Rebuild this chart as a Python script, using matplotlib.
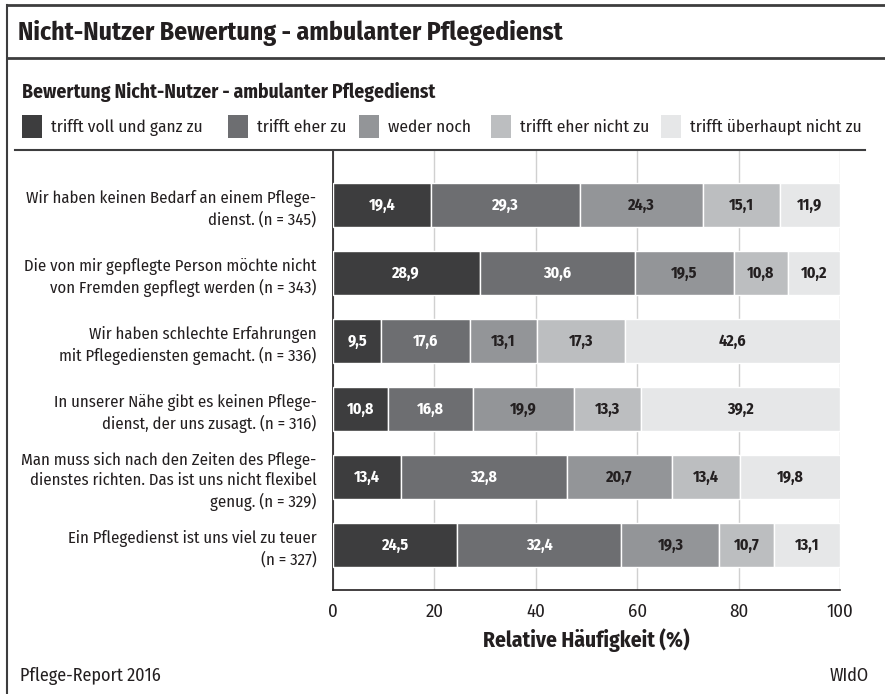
import matplotlib.pyplot as plt
from matplotlib.patches import Rectangle
from matplotlib.lines import Line2D
import numpy as np

# Schmale Schrift wie im Original
plt.rcParams['font.family'] = ['Fira Sans Condensed', 'DejaVu Sans']

# Daten
labels = [
    "Wir haben keinen Bedarf an einem Pflege-\ndienst. (n = 345)",
    "Die von mir gepflegte Person möchte nicht\nvon Fremden gepflegt werden (n = 343)",
    "Wir haben schlechte Erfahrungen\nmit Pflegediensten gemacht. (n = 336)",
    "In unserer Nähe gibt es keinen Pflege-\ndienst, der uns zusagt. (n = 316)",
    "Man muss sich nach den Zeiten des Pflege-\ndienstes richten. Das ist uns nicht flexibel\ngenug. (n = 329)",
    "Ein Pflegedienst ist uns viel zu teuer\n(n = 327)",
]
kategorien = ["trifft voll und ganz zu", "trifft eher zu", "weder noch",
              "trifft eher nicht zu", "trifft überhaupt nicht zu"]
voll_ganz = [19.4, 28.9, 9.5, 10.8, 13.4, 24.5]
eher_zu = [29.3, 30.6, 17.6, 16.8, 32.8, 32.4]
weder_noch = [24.3, 19.5, 13.1, 19.9, 20.7, 19.3]
eher_nicht = [15.1, 10.8, 17.3, 13.3, 13.4, 10.7]
ueberhaupt_nicht = [11.9, 10.2, 42.6, 39.2, 19.8, 13.1]
xticks = [0, 20, 40, 60, 80, 100]

serien = [voll_ganz, eher_zu, weder_noch, eher_nicht, ueberhaupt_nicht]
farben = ["#3d3d3e", "#6d6e71", "#939598", "#bcbec0", "#e6e7e8"]
textfarben = ["white", "white", "#231f20", "#231f20", "#231f20"]

W, H = 885, 694
fig = plt.figure(figsize=(W / 100, H / 100), dpi=100)

def fx(px):
    return px / W

def fy(py):
    return 1 - py / H

ax = fig.add_axes([fx(333), fy(590), fx(840) - fx(333), fy(150) - fy(590)])

y = np.arange(len(labels))
links = np.zeros(len(labels))
for werte, farbe, tfarbe in zip(serien, farben, textfarben):
    bars = ax.barh(y, werte, left=links, height=0.65, color=farbe,
                   edgecolor="white", linewidth=1, zorder=3)
    for b, v in zip(bars, werte):
        ax.text(b.get_x() + b.get_width() / 2, b.get_y() + b.get_height() / 2,
                f"{v:.1f}".replace(".", ","), ha="center", va="center",
                color=tfarbe, fontsize=11.5, fontweight="bold", zorder=4)
    links += np.array(werte)

ax.set_xlim(0, 100)
ax.set_ylim(5.66, -0.81)
ax.set_xticks(xticks)
ax.set_yticks(y)
ax.set_yticklabels(labels, fontsize=12, ha="right", multialignment="right",
                   linespacing=1.3)
ax.tick_params(axis="y", length=0, pad=12, colors="#231f20")
ax.tick_params(axis="x", length=0, pad=9, labelsize=13.5, colors="#231f20")
ax.xaxis.grid(True, color="#d0d0d0", linewidth=1, zorder=0)
for s in ["top", "right"]:
    ax.spines[s].set_visible(False)
ax.spines["left"].set_color("#231f20")
ax.spines["bottom"].set_color("#231f20")
ax.spines["left"].set_linewidth(1.2)
ax.spines["bottom"].set_linewidth(1.2)
ax.set_xlabel("Relative Häufigkeit (%)", fontsize=15.5, fontweight="bold",
              color="#231f20", labelpad=6)

# Rahmen
lc = "#3d3d3e"
fig.add_artist(Line2D([fx(7), 1], [fy(5), fy(5)], color=lc, lw=2))
fig.add_artist(Line2D([fx(7), 1], [fy(58), fy(58)], color=lc, lw=2))
fig.add_artist(Line2D([fx(7), fx(7)], [fy(5), 0], color=lc, lw=1.5))
fig.add_artist(Line2D([fx(15), fx(865)], [fy(150), fy(150)], color=lc, lw=1.5))

# Titel
fig.text(fx(18), fy(33), "Nicht-Nutzer Bewertung - ambulanter Pflegedienst",
         fontsize=18.5, fontweight="bold", va="center", color="#231f20")
fig.text(fx(22), fy(92), "Bewertung Nicht-Nutzer - ambulanter Pflegedienst",
         fontsize=14, fontweight="bold", va="center", color="#231f20")

# Legende
leg_x = [22, 228, 359, 491, 661]
for xp, farbe, name in zip(leg_x, farben, kategorien):
    fig.add_artist(Rectangle((fx(xp), fy(138)), fx(20), fy(115) - fy(138),
                             facecolor=farbe, edgecolor="none"))
    fig.text(fx(xp + 29), fy(127), name, fontsize=12.5, va="center",
             color="#231f20")

# Fusszeile
fig.text(fx(20), fy(676), "Pflege-Report 2016", fontsize=13, va="center",
         color="#231f20")
fig.text(fx(869), fy(676), "WIdO", fontsize=13, va="center", ha="right",
         color="#231f20")

fig.savefig("out.png", dpi=100)
